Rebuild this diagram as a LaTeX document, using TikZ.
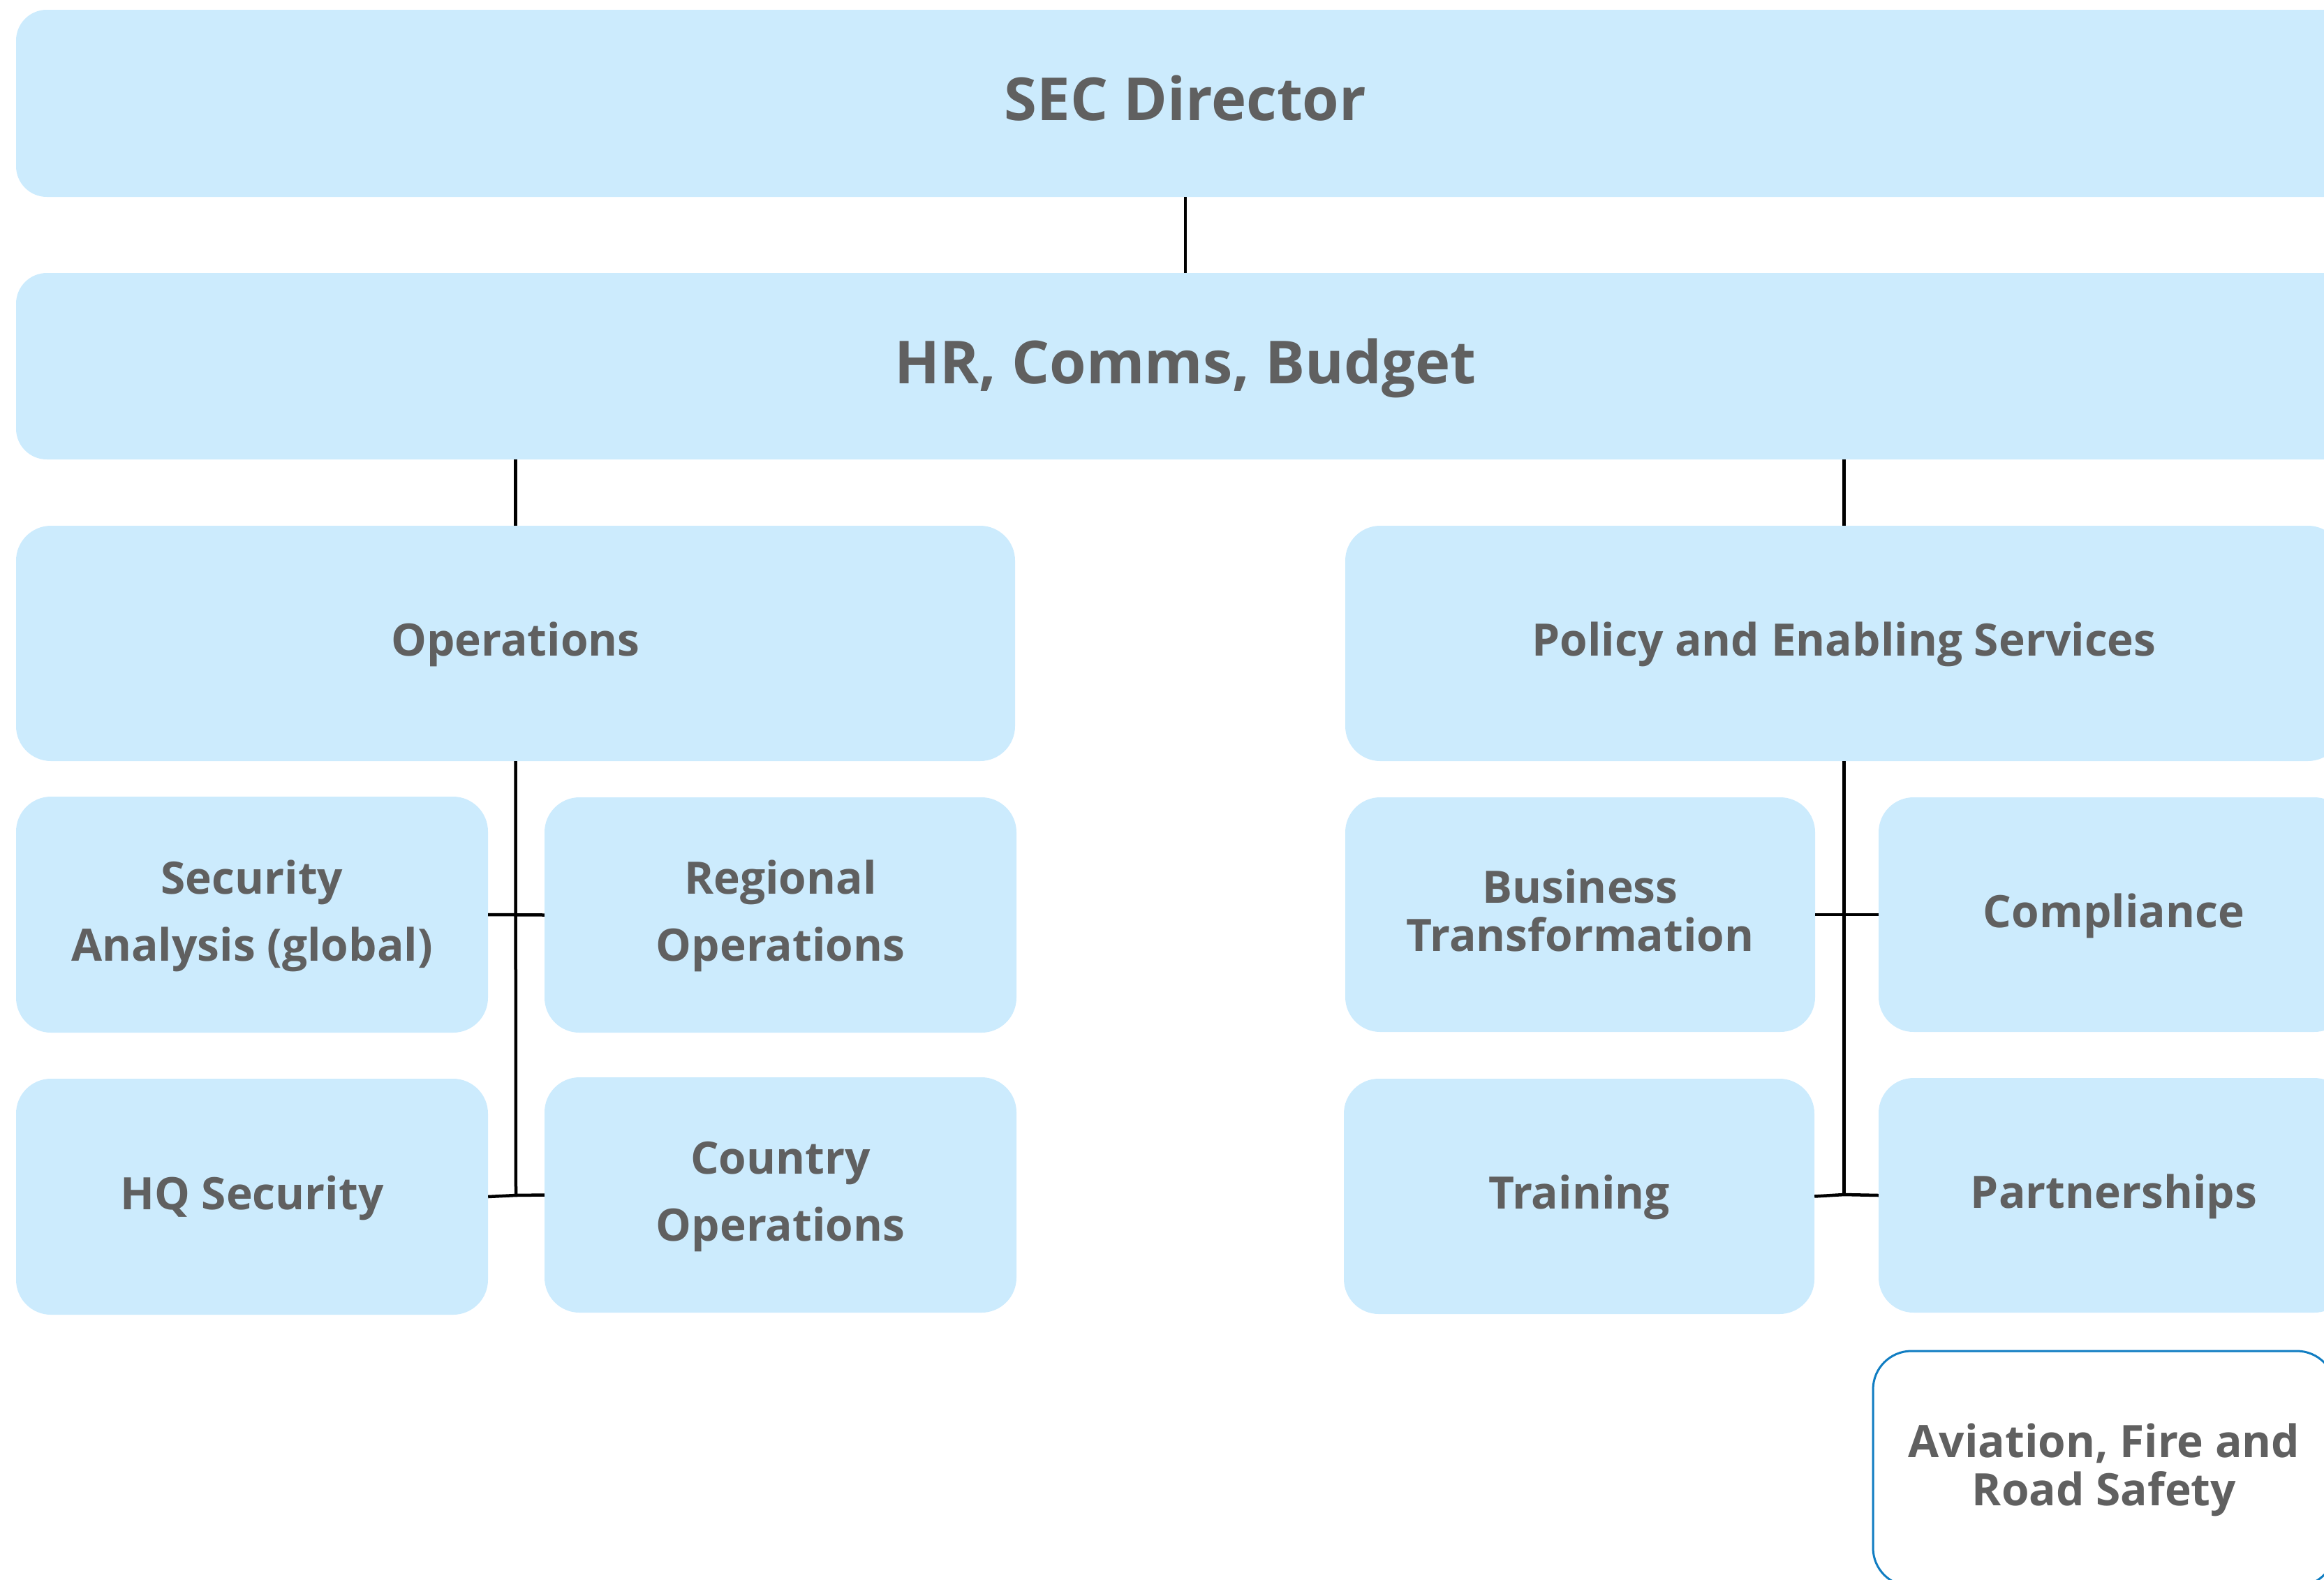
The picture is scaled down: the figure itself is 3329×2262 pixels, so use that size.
\documentclass[tikz,border=0pt]{standalone}
\usepackage{fontspec}
\setmainfont{Open Sans}
\definecolor{boxblue}{RGB}{204,235,253}
\definecolor{textgray}{RGB}{96,96,96}
\definecolor{edgeblue}{RGB}{16,125,194}
\newcommand\topfont{\fontsize{85}{100}\selectfont\bfseries}
\newcommand\midfont{\fontsize{64}{96}\selectfont\bfseries}
\newcommand\tightfont{\fontsize{64}{69}\selectfont\bfseries}
\tikzset{
  orgbox/.style={rectangle, rounded corners=50pt, fill=boxblue, text=textgray,
    inner sep=0pt, align=center, font=\midfont, text height=46pt, text depth=10pt},
  topbox/.style={orgbox, rounded corners=44pt, font=\topfont, text height=61pt, text depth=12pt},
  twowide/.style={text height=142pt, text depth=10pt},
  twotight/.style={font=\tightfont, text height=115pt, text depth=10pt},
  link/.style={draw=black, line width=4.5pt}
}
\begin{document}
\begin{tikzpicture}[x=1pt,y=-1pt]
\useasboundingbox (0,0) rectangle (3329,2262);
\clip (0,0) rectangle (3329,2262);
% top level
\node[topbox, minimum width=3350pt, minimum height=268pt] (sec) at (1698,148) {SEC Director};
\node[topbox, minimum width=3350pt, minimum height=267pt] (hr) at (1698,524.5) {HR, Comms, Budget};
% second level
\node[orgbox, minimum width=1431pt, minimum height=337pt] (ops) at (738.5,921.5) {Operations};
\node[orgbox, minimum width=1429pt, minimum height=337pt] (pes) at (2641.5,921.5) {Policy and Enabling Services};
% operations units
\node[orgbox, twowide, minimum width=676pt, minimum height=338pt] (sa) at (361,1310) {Security\\Analysis (global)};
\node[orgbox, twowide, minimum width=676pt, minimum height=337pt] (ro) at (1118,1310.5) {Regional\\Operations};
\node[orgbox, minimum width=676pt, minimum height=338pt] (hq) at (361,1714) {HQ Security};
\node[orgbox, twowide, minimum width=676pt, minimum height=337pt] (co) at (1118,1711.5) {Country\\Operations};
% policy units
\node[orgbox, twotight, minimum width=673pt, minimum height=336pt] (bt) at (2263.5,1310) {Business\\Transformation};
\node[orgbox, minimum width=674pt, minimum height=336pt] (cp) at (3028,1310) {Compliance};
\node[orgbox, minimum width=674pt, minimum height=337pt] (tr) at (2262,1713.5) {Training};
\node[orgbox, minimum width=674pt, minimum height=336pt] (pa) at (3028,1712) {Partnerships};
\node[orgbox, twotight, fill=white, draw=edgeblue, line width=3pt, rounded corners=55pt,
      minimum width=662pt, minimum height=337pt] (av) at (3014,2103.5) {Aviation, Fire and\\Road Safety};
% connectors
\coordinate (opsj) at (739,1712);
\coordinate (pesj) at (2641.5,1711);
\draw[link] (sec.south) -- (hr.north);
\draw[link] (hr.south -| ops.north) -- (ops.north);
\draw[link] (hr.south -| pes.north) -- (pes.north);
\draw[link] (ops.south) -- (opsj);
\draw[link] (sa.east) -- (ro.west);
\draw[link] (hq.east) -- (opsj) -- (co.west);
\draw[link] (pes.south) -- (pesj);
\draw[link] (bt.east) -- (cp.west);
\draw[link] (tr.east) -- (pesj) -- (pa.west);
\end{tikzpicture}
\end{document}
